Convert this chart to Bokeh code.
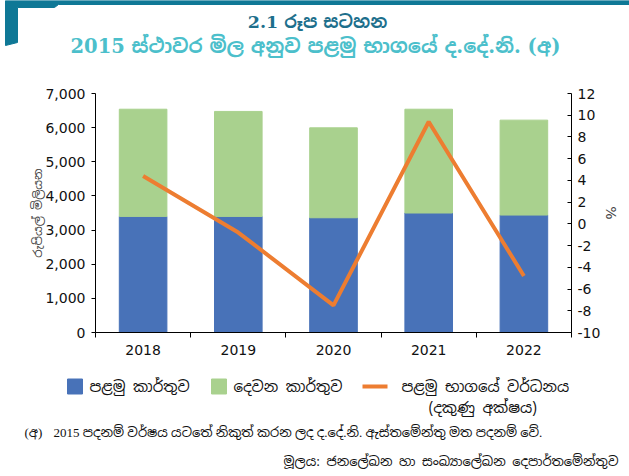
from bokeh.plotting import figure
from bokeh.layouts import column
from bokeh.models import Range1d, LinearAxis, FixedTicker, ColumnDataSource, NumeralTickFormatter
from bokeh.core.properties import value
from bokeh.embed import file_html
from bokeh.resources import INLINE

# ---- data ----
years = [2018, 2019, 2020, 2021, 2022]
first_quarter = [3400, 3400, 3360, 3500, 3440]
second_quarter = [3140, 3075, 2635, 3040, 2780]
h1_growth = [4.4, -0.8, -7.5, 9.4, -4.8]

left_ticks = [0, 1000, 2000, 3000, 4000, 5000, 6000, 7000]
right_ticks = [-10, -8, -6, -4, -2, 0, 2, 4, 6, 8, 10, 12]

title1 = "2.1 රූප සටහන"
title2 = "2015 ස්ථාවර මිල අනුව පළමු භාගයේ ද.දේ.නි. (අ)"
ylabel_left = "රුපියල් මිලියන"
ylabel_right = "%"
legend_labels = ["පළමු කාර්තුව", "දෙවන කාර්තුව", "පළමු භාගයේ වර්ධනය", "(දකුණු අක්ෂය)"]
footnote_mark = "(අ)"
footnote = "2015 පදනම් වර්ෂය යටතේ නිකුත් කරන ලද ද.දේ.නි. ඇස්තමේන්තු මත පදනම් වේ."
source_note = "මූලය: ජනලේඛන හා සංඛ්‍යාලේඛන දෙපාර්තමේන්තුව"

BLUE = "#4872b8"
GREEN = "#a9d18e"
ORANGE = "#ed7d31"
TEAL_DARK = "#0f7896"
TEAL_TITLE = "#1d6f8c"
TEAL_LIGHT = "#4cbfcb"
FONT = "DejaVu Sans"
SIN = "Noto Sans Sinhala, Noto Sans, DejaVu Sans"
SERIF_SIN = "DejaVu Serif, Noto Sans Sinhala, Noto Sans"

W = 629

def blank(h, y0, y1):
    f = figure(width=W, height=h, x_range=Range1d(0, 629), y_range=Range1d(y1, y0),
               output_backend="svg", toolbar_location=None, min_border=0, frame_align=False)
    f.axis.visible = False
    f.grid.visible = False
    f.outline_line_color = None
    return f

# ---- header ----
hdr = blank(73, 0, 73)
hdr.patch([5, 629, 629, 58, 54, 17, 17, 5], [0, 0, 4, 4, 7, 7, 42, 45], color=TEAL_DARK)
hdr.text(x=[317], y=[21], text=[title1], text_font=value(SERIF_SIN), text_font_style="bold",
         text_font_size="17.5px", text_color=TEAL_TITLE, text_align="center", text_baseline="middle")
hdr.text(x=[315], y=[46], text=[title2], text_font=value(SERIF_SIN), text_font_style="bold",
         text_font_size="19.5px", text_color=TEAL_LIGHT, text_align="center", text_baseline="middle")

# ---- main chart ----
src = ColumnDataSource(dict(year=years, q1=first_quarter, q2=second_quarter, g=h1_growth))
p = figure(width=W, height=292, x_range=Range1d(2017.5, 2022.5), y_range=Range1d(0, 7000),
           output_backend="svg", toolbar_location=None, frame_align=False,
           frame_width=476, frame_height=239,
           min_border_top=20, min_border_bottom=33, min_border_left=95, min_border_right=58)
p.extra_y_ranges = {"pct": Range1d(-10, 12)}
p.grid.visible = False
p.outline_line_color = None

p.vbar_stack(["q1", "q2"], x="year", width=0.5, color=[BLUE, GREEN], source=src)
p.line(x="year", y="g", source=src, y_range_name="pct", line_color=ORANGE, line_width=4)

xa = p.xaxis[0]
xa.ticker = FixedTicker(ticks=years, minor_ticks=[2017.5, 2018.5, 2019.5, 2020.5, 2021.5, 2022.5])
xa.major_tick_out = 0
xa.major_tick_in = 0
xa.minor_tick_out = 5
xa.minor_tick_in = 0
xa.major_label_standoff = 7
xa.minor_tick_line_color = "black"

ya = p.yaxis[0]
ya.ticker = FixedTicker(ticks=left_ticks)
ya.formatter = NumeralTickFormatter(format="0,0")
ya.major_tick_out = 4
ya.major_tick_in = 0
ya.minor_tick_line_color = None
ya.major_label_standoff = 6
ya.axis_label = ylabel_left
ya.axis_label_text_font = SIN
ya.axis_label_text_font_style = "normal"
ya.axis_label_text_font_size = "12px"
ya.axis_label_text_color = "#444444"
ya.axis_label_standoff = -4

ra = LinearAxis(y_range_name="pct", ticker=FixedTicker(ticks=right_ticks))
ra.major_label_overrides = {t: str(t) for t in right_ticks}
ra.major_tick_out = 0
ra.major_tick_in = 4
ra.minor_tick_line_color = None
ra.major_label_standoff = 6
ra.axis_label = ylabel_right
ra.axis_label_text_font = FONT
ra.axis_label_text_font_style = "normal"
ra.axis_label_text_font_size = "14px"
ra.axis_label_standoff = 0
p.add_layout(ra, "right")

for ax in [xa, ya, ra]:
    ax.major_label_text_font = FONT
    ax.major_label_text_font_size = "14px"
    ax.major_label_text_color = "#111111"
    ax.axis_line_color = "black"
    ax.major_tick_line_color = "black"

# ---- legend and notes ----
bot = blank(111, 365, 476)
bot.rect(x=[74.5, 218.5], y=[386, 386], width=15, height=15, color=[BLUE, GREEN])
bot.segment(x0=[362], y0=[386], x1=[387], y1=[386], line_color=ORANGE, line_width=4)
bot.text(x=[89, 233, 401], y=[386, 386, 386], text=legend_labels[:3], text_font=value(SIN),
         text_font_size="15px", text_color="#111111", text_baseline="middle")
bot.text(x=[428], y=[407], text=[legend_labels[3]], text_font=value(SIN),
         text_font_size="15px", text_color="#111111", text_baseline="middle")
bot.text(x=[24, 53], y=[432, 432], text=[footnote_mark, footnote], text_font=value("Liberation Serif, " + SIN),
         text_font_size="13px", text_color="#111111", text_baseline="middle")
bot.text(x=[618], y=[461], text=[source_note], text_font=value(SIN),
         text_font_size="13px", text_color="#111111", text_align="right", text_baseline="middle")

layout = column(hdr, p, bot, spacing=0)
open("out.html", "w").write(file_html(layout, INLINE))
